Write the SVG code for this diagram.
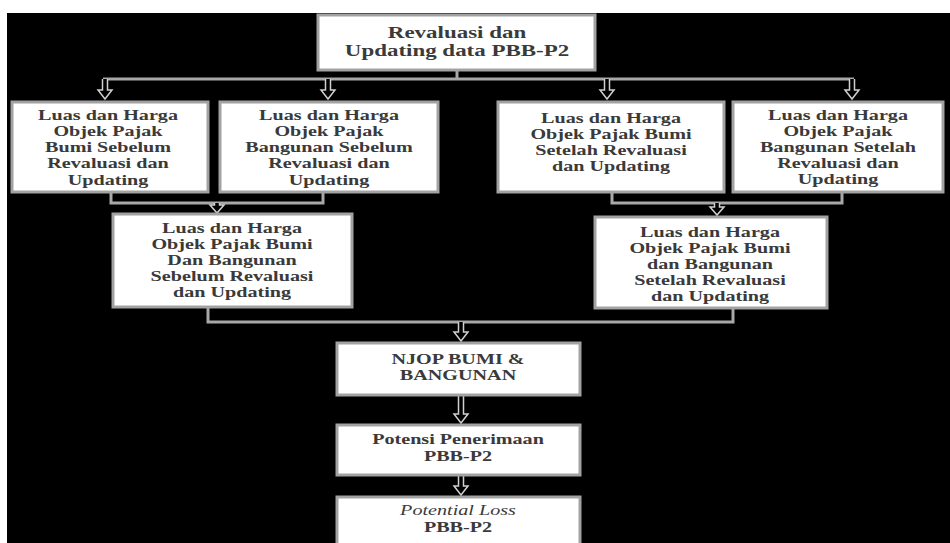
<svg xmlns="http://www.w3.org/2000/svg" width="950" height="543" viewBox="0 0 950 543">
<style>
.box{fill:#fff;stroke:#a2a2a2;stroke-width:3}
.t{font-family:"Liberation Serif","Times New Roman",serif;font-weight:bold;font-size:15.5px;fill:#3a3a3a;text-anchor:middle}
.tt{font-size:17px}
.it{font-style:italic;font-weight:normal}
.ln{fill:none;stroke:#a8a8a8;stroke-width:3}
.ar{fill:#000;stroke:#d0d0d0;stroke-width:1.5;stroke-linejoin:miter}
</style>
<rect x="0" y="0" width="950" height="543" fill="#fff"/>
<rect x="7" y="13" width="943" height="530" fill="#000"/>

<g id="connectors">
<path class="ln" d="M457 70 V79 M103 79 H854"/>
<path class="ln" d="M111 192 V203 H323 V192"/>
<path class="ln" d="M612 192 V203 H842 V192"/>
<path class="ln" d="M208 307 V322 H733 V308"/>
<path class="ar" d="M102.5 79 V90 H98 L105 99 L112 90 H107.5 V79"/>
<path class="ar" d="M325.5 79 V90 H321 L328 99 L335 90 H330.5 V79"/>
<path class="ar" d="M604.5 79 V90 H600 L607 99 L614 90 H609.5 V79"/>
<path class="ar" d="M849.5 79 V90 H845 L852 99 L859 90 H854.5 V79"/>
<path class="ar" d="M214.5 203 V205 H210 L217 213 L224 205 H219.5 V203"/>
<path class="ar" d="M714.5 203 V207 H710 L717 215 L724 207 H719.5 V203"/>
<path class="ar" d="M458.5 322 V332 H454 L461 341 L468 332 H463.5 V322"/>
<path class="ar" d="M458.5 395 V414 H454 L461 423 L468 414 H463.5 V395"/>
<path class="ar" d="M458.5 475 V486 H454 L461 495 L468 486 H463.5 V475"/>
</g>

<g id="revaluasi">
<rect class="box" x="318" y="15" width="277" height="55"/>
<g transform="translate(457 0) scale(1.35 1)">
<text class="t tt" x="0" y="38">Revaluasi dan</text>
<text class="t tt" x="0" y="56">Updating data PBB-P2</text>
</g>
</g>

<g id="bumi-sebelum">
<rect class="box" x="12" y="102" width="196" height="90"/>
<g transform="translate(108 0) scale(1.3 1)">
<text class="t" x="0" y="120">Luas dan Harga</text>
<text class="t" x="0" y="136">Objek Pajak</text>
<text class="t" x="0" y="152">Bumi Sebelum</text>
<text class="t" x="0" y="168">Revaluasi dan</text>
<text class="t" x="0" y="185">Updating</text>
</g>
</g>

<g id="bangunan-sebelum">
<rect class="box" x="220" y="102" width="218" height="90"/>
<g transform="translate(329 0) scale(1.3 1)">
<text class="t" x="0" y="120">Luas dan Harga</text>
<text class="t" x="0" y="136">Objek Pajak</text>
<text class="t" x="0" y="152">Bangunan Sebelum</text>
<text class="t" x="0" y="168">Revaluasi dan</text>
<text class="t" x="0" y="185">Updating</text>
</g>
</g>

<g id="bumi-setelah">
<rect class="box" x="498" y="102" width="226" height="90"/>
<g transform="translate(611 0) scale(1.3 1)">
<text class="t" x="0" y="123">Luas dan Harga</text>
<text class="t" x="0" y="139">Objek Pajak Bumi</text>
<text class="t" x="0" y="155">Setelah Revaluasi</text>
<text class="t" x="0" y="171">dan Updating</text>
</g>
</g>

<g id="bangunan-setelah">
<rect class="box" x="733" y="102" width="210" height="90"/>
<g transform="translate(838 0) scale(1.3 1)">
<text class="t" x="0" y="120">Luas dan Harga</text>
<text class="t" x="0" y="136">Objek Pajak</text>
<text class="t" x="0" y="152">Bangunan Setelah</text>
<text class="t" x="0" y="168">Revaluasi dan</text>
<text class="t" x="0" y="184">Updating</text>
</g>
</g>

<g id="bumi-bangunan-sebelum">
<rect class="box" x="113" y="214" width="239" height="93"/>
<g transform="translate(232 0) scale(1.3 1)">
<text class="t" x="0" y="233">Luas dan Harga</text>
<text class="t" x="0" y="249">Objek Pajak Bumi</text>
<text class="t" x="0" y="265">Dan Bangunan</text>
<text class="t" x="0" y="281">Sebelum Revaluasi</text>
<text class="t" x="0" y="297">dan Updating</text>
</g>
</g>

<g id="bumi-bangunan-setelah">
<rect class="box" x="595" y="217" width="232" height="91"/>
<g transform="translate(710 0) scale(1.3 1)">
<text class="t" x="0" y="237">Luas dan Harga</text>
<text class="t" x="0" y="253">Objek Pajak Bumi</text>
<text class="t" x="0" y="269">dan Bangunan</text>
<text class="t" x="0" y="285">Setelah Revaluasi</text>
<text class="t" x="0" y="301">dan Updating</text>
</g>
</g>

<g id="njop">
<rect class="box" x="337" y="343" width="243" height="52"/>
<g transform="translate(458 0) scale(1.3 1)">
<text class="t" x="0" y="364">NJOP BUMI &amp;</text>
<text class="t" x="0" y="380">BANGUNAN</text>
</g>
</g>

<g id="potensi">
<rect class="box" x="337" y="425" width="243" height="50"/>
<g transform="translate(458 0) scale(1.3 1)">
<text class="t" x="0" y="444">Potensi Penerimaan</text>
<text class="t" x="0" y="461">PBB-P2</text>
</g>
</g>

<g id="potential-loss">
<rect class="box" x="337" y="497" width="243" height="52"/>
<g transform="translate(458 0) scale(1.3 1)">
<text class="t it" x="0" y="515">Potential Loss</text>
<text class="t" x="0" y="532">PBB-P2</text>
</g>
</g>
</svg>
